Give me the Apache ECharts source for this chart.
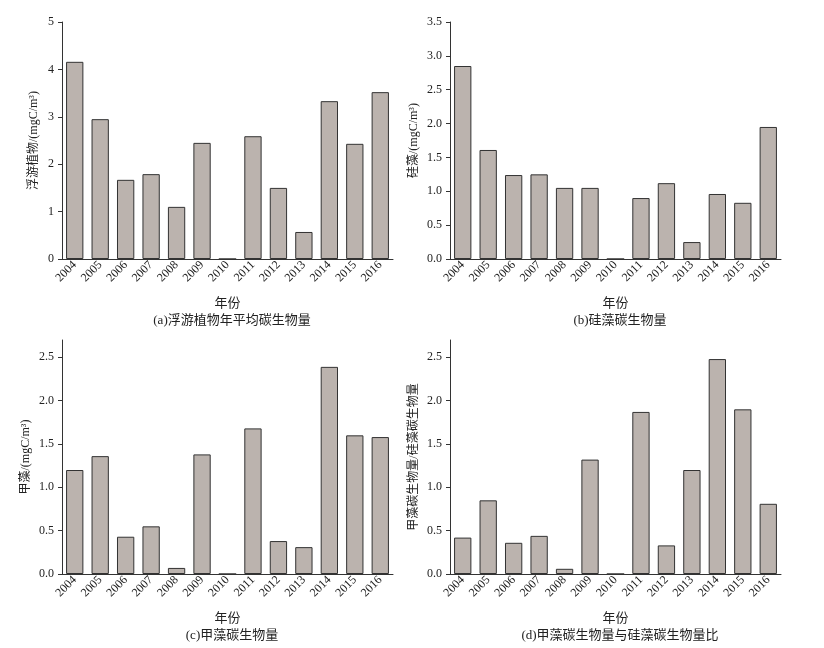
<!DOCTYPE html>
<html>
<head>
<meta charset="utf-8">
<script src="https://cdn.jsdelivr.net/npm/echarts@6/dist/echarts.min.js"></script>
<style>html,body{margin:0;padding:0;background:#fff}#chart{width:824px;height:648px}</style>
</head>
<body>
<div id="chart"></div>
<script>
var years = ['2004','2005','2006','2007','2008','2009','2010','2011','2012','2013','2014','2015','2016'];
var phyto = [4.16, 2.95, 1.67, 1.79, 1.10, 2.45, 0, 2.59, 1.50, 0.57, 3.33, 2.43, 3.52];
var diatom = [2.85, 1.61, 1.24, 1.25, 1.05, 1.05, 0, 0.90, 1.12, 0.25, 0.96, 0.83, 1.95];
var dino = [1.20, 1.36, 0.43, 0.55, 0.07, 1.38, 0, 1.68, 0.38, 0.31, 2.39, 1.60, 1.58];
var ratio = [0.42, 0.85, 0.36, 0.44, 0.06, 1.32, 0, 1.87, 0.33, 1.20, 2.48, 1.90, 0.81];

var font = "'Liberation Serif', 'Noto Sans CJK SC', serif";
var panels = [
  {data: phyto, name: '浮游植物/(mgC/m³)', cap: '(a)浮游植物年平均碳生物量', max: 5, step: 1, fmt: 0, l: 62, t: 22, h: 237},
  {data: diatom, name: '硅藻/(mgC/m³)', cap: '(b)硅藻碳生物量', max: 3.5, step: 0.5, fmt: 1, l: 450, t: 22, h: 237},
  {data: dino, name: '甲藻/(mgC/m³)', cap: '(c)甲藻碳生物量', max: 2.7, step: 0.5, fmt: 1, l: 62, t: 340, h: 234},
  {data: ratio, name: '甲藻碳生物量/硅藻碳生物量', cap: '(d)甲藻碳生物量与硅藻碳生物量比', max: 2.7, step: 0.5, fmt: 1, l: 450, t: 340, h: 234}
];

var grid = [], xAxis = [], yAxis = [], series = [], title = [];
panels.forEach(function (p, i) {
  grid.push({left: p.l, top: p.t, width: 331, height: p.h});
  xAxis.push({
    type: 'category', gridIndex: i, data: years,
    name: '年份', nameLocation: 'middle', nameGap: 38,
    nameTextStyle: {fontFamily: font, fontSize: 13, color: '#222'},
    axisLine: {lineStyle: {color: '#333'}},
    axisTick: {show: false},
    axisLabel: {rotate: 45, interval: 0, fontFamily: font, fontSize: 12, color: '#222', margin: 4}
  });
  yAxis.push({
    type: 'value', gridIndex: i, min: 0, max: p.max, interval: p.step,
    name: p.name, nameLocation: 'middle', nameGap: p.fmt ? 30 : 22,
    nameTextStyle: {fontFamily: font, fontSize: 12, color: '#222'},
    splitLine: {show: false},
    axisLine: {show: true, lineStyle: {color: '#333'}},
    axisTick: {show: true, inside: false, length: 4},
    axisLabel: {fontFamily: font, fontSize: 12, color: '#222', showMaxLabel: p.max === 5 || p.max === 3.5,
      formatter: function (v) { return v.toFixed(p.fmt); }}
  });
  series.push({
    type: 'bar', xAxisIndex: i, yAxisIndex: i, data: p.data, barWidth: '68%',
    itemStyle: {color: '#bbb3ae', borderColor: '#333', borderWidth: 1}
  });
  title.push({text: p.cap, left: p.l + 165, top: p.t + p.h + 50, textAlign: 'center',
    textStyle: {fontFamily: font, fontSize: 13, fontWeight: 'normal', color: '#222'}});
});

var chart = echarts.init(document.getElementById('chart'));
chart.setOption({animation: false, title: title, grid: grid, xAxis: xAxis, yAxis: yAxis, series: series});
</script>
</body>
</html>
